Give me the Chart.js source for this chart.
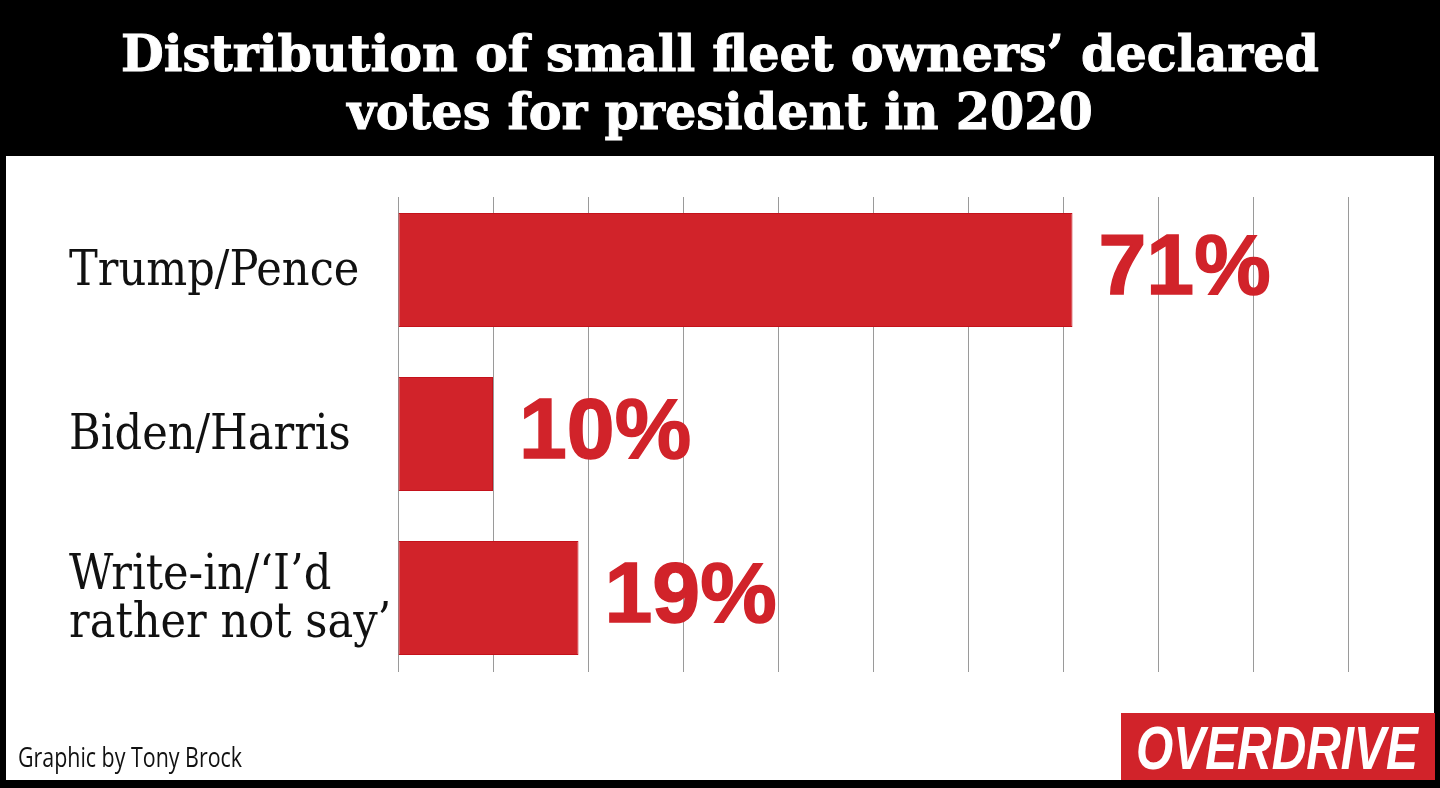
<!DOCTYPE html>
<html>
<head>
<meta charset="utf-8">
<script src="https://cdn.jsdelivr.net/npm/chart.js@4.4.1/dist/chart.umd.min.js"></script>
<style>
  html, body { margin: 0; padding: 0; background: #000; overflow: hidden; }
  #wrap { position: relative; width: 1440px; height: 788px; background: #000; }
  #titulo {
    position: absolute; left: 0; top: 24px; width: 1440px;
    color: #fff; text-align: center;
    font: bold 51px/58px "DejaVu Serif", serif;
    -webkit-text-stroke: 1px #fff;
    white-space: nowrap;
  }
  #titulo span { display: inline-block; }
  #panel { position: absolute; left: 6px; top: 156px; width: 1428px; height: 624px; background: #fff; }
  #grafico { position: absolute; left: 0; top: 0; }
  #credito {
    position: absolute; left: 18px; top: 743px;
    font: 27px/27px "Open Sans", sans-serif; color: #111;
    transform-origin: left center; white-space: nowrap;
  }
  #logo {
    position: absolute; left: 1121px; top: 713px; width: 314px; height: 67px;
    background: #d1232a; overflow: hidden;
  }
  #logo span {
    position: absolute; left: 15px; top: 4px;
    font: italic bold 62px/62px "Liberation Sans", sans-serif; color: #fff;
    transform-origin: left center; white-space: nowrap;
  }
</style>
</head>
<body>
<div id="wrap">
  <div id="titulo"><span id="linea1">Distribution of small fleet owners’ declared</span><br><span>votes for president in 2020</span></div>
  <div id="panel"><canvas id="grafico"></canvas></div>
  <div id="credito">Graphic by Tony Brock</div>
  <div id="logo"><span id="logoTexto">OVERDRIVE</span></div>
</div>
<script>
const categorias = ['Trump/Pence', 'Biden/Harris', ['Write-in/‘I’d', 'rather not say’']];
const porcentajes = [71, 10, 19];
const ticksX = [0, 10, 20, 30, 40, 50, 60, 70, 80, 90, 100];

const rojo = '#d1232a';

// ajustar ancho del titulo, credito y logo
function ajustarAncho(el, medida, objetivo) {
    el.style.transform = `scaleX(${objetivo / medida.getBoundingClientRect().width})`;
}
ajustarAncho(document.getElementById('titulo'), document.getElementById('linea1'), 1198);
ajustarAncho(document.getElementById('credito'), document.getElementById('credito'), 224);
ajustarAncho(document.getElementById('logoTexto'), document.getElementById('logoTexto'), 282);

// etiquetas de valor al lado de cada barra
const etiquetasValor = {
    id: 'etiquetasValor',
    afterDatasetsDraw(chart) {
        const ctx = chart.ctx;
        const barras = chart.getDatasetMeta(0).data;
        ctx.save();
        ctx.font = 'bold 86px "Liberation Sans", Arial, sans-serif';
        ctx.fillStyle = rojo;
        ctx.strokeStyle = rojo;
        ctx.lineWidth = 1.5;
        ctx.textAlign = 'left';
        ctx.textBaseline = 'alphabetic';
        barras.forEach((barra, i) => {
            const txt = porcentajes[i] + '%';
            ctx.fillText(txt, barra.x + 26, barra.y + 24);
            ctx.strokeText(txt, barra.x + 26, barra.y + 24);
        });
        ctx.restore();
    }
};

// las lineas de la reticula no llegan al borde del area
const recorteReticula = {
    id: 'recorteReticula',
    beforeDatasetsDraw(chart) {
        const { ctx, chartArea } = chart;
        ctx.save();
        ctx.fillStyle = '#fff';
        ctx.fillRect(chartArea.left - 2, chartArea.top - 2, chartArea.width + 4, 11);
        ctx.fillRect(chartArea.left - 2, chartArea.bottom - 8, chartArea.width + 4, 10);
        ctx.restore();
    }
};

const canvas = document.getElementById('grafico');
canvas.width = 1428;
canvas.height = 624;
canvas.style.width = '1428px';
canvas.style.height = '624px';

new Chart(canvas, {
    type: 'bar',
    data: {
        labels: categorias,
        datasets: [{
            data: porcentajes,
            backgroundColor: rojo,
            borderColor: '#c4121b',
            borderWidth: 1,
            borderSkipped: false,
            barPercentage: 0.695,
            categoryPercentage: 1
        }]
    },
    options: {
        indexAxis: 'y',
        responsive: false,
        animation: false,
        events: [],
        layout: { padding: { left: 63, right: 86, top: 32, bottom: 100 } },
        plugins: {
            legend: { display: false },
            tooltip: { enabled: false }
        },
        scales: {
            x: {
                min: 0,
                max: 100,
                afterBuildTicks: (scale) => { scale.ticks = ticksX.map(v => ({ value: v })); },
                afterFit: (scale) => { scale.height = 0; scale.paddingLeft = 0; scale.paddingRight = 0; },
                ticks: { display: false },
                grid: { color: '#9a9a9a', lineWidth: 1, drawTicks: false },
                border: { display: false }
            },
            y: {
                afterFit: (scale) => { scale.width = 329; scale.paddingTop = 0; scale.paddingBottom = 0; },
                grid: { display: false, drawTicks: false },
                border: { display: false },
                ticks: {
                    crossAlign: 'far',
                    labelOffset: 3,
                    color: '#111',
                    font: { family: '"DejaVu Serif Condensed", "DejaVu Serif", serif', size: 48, lineHeight: 1.0 }
                }
            }
        }
    },
    plugins: [etiquetasValor, recorteReticula]
});
</script>
</body>
</html>
